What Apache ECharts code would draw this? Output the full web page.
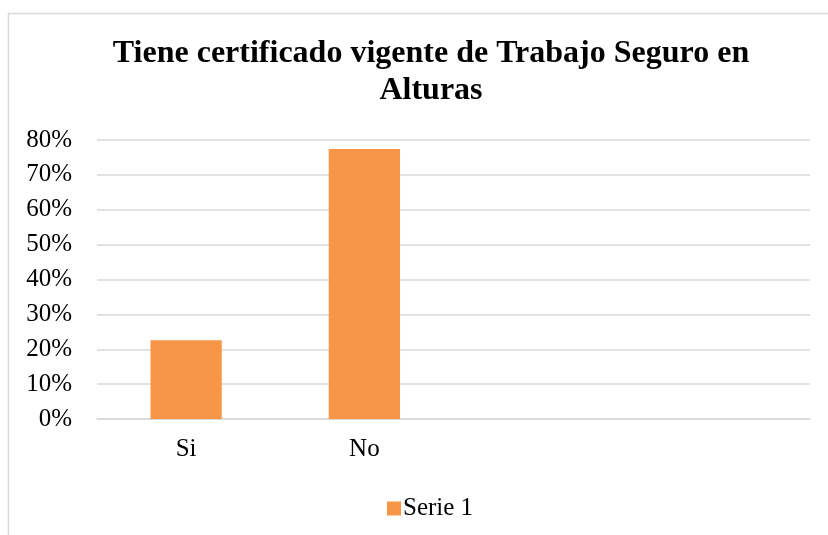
<!DOCTYPE html>
<html>
<head>
<meta charset="utf-8">
<script src="https://cdn.jsdelivr.net/npm/echarts@6/dist/echarts.min.js"></script>
<style>
  html, body { margin: 0; padding: 0; background: #fff; }
  #chart { width: 828px; height: 535px; }
</style>
</head>
<body>
<div id="chart"></div>
<script>
// datos
const categories = ['Si', 'No', '', ''];
const serie1 = [22.6, 77.4, null, null];
const yTicks = { min: 0, max: 80, interval: 10 };

const serif = '"Liberation Serif", "Times New Roman", serif';

const chart = echarts.init(document.getElementById('chart'));
chart.setOption({
  backgroundColor: '#fff',
  animation: false,
  graphic: [
    {
      // marco del área del gráfico
      type: 'rect',
      shape: { x: 8.5, y: 13.5, width: 900, height: 600 },
      style: { fill: 'none', stroke: '#d9d9d9', lineWidth: 1.5 },
      silent: true
    }
  ],
  title: {
    text: 'Tiene certificado vigente de Trabajo Seguro en\nAlturas',
    left: 426,
    top: 30,
    textAlign: 'center',
    textStyle: {
      fontFamily: serif,
      fontWeight: 'bold',
      fontSize: 32,
      lineHeight: 37,
      color: '#000'
    }
  },
  legend: {
    data: ['Serie 1'],
    left: 382,
    top: 491,
    itemWidth: 14,
    itemHeight: 14,
    itemGap: 10,
    icon: 'rect',
    textStyle: { fontFamily: serif, fontSize: 25, color: '#000', padding: [0, 0, 0, -3] }
  },
  grid: { left: 97, right: 18, top: 140, bottom: 116, containLabel: false },
  xAxis: {
    type: 'category',
    data: categories,
    axisLine: { lineStyle: { color: '#d9d9d9', width: 1.5 } },
    axisTick: { show: false },
    axisLabel: { fontFamily: serif, fontSize: 25, color: '#000', margin: 18 }
  },
  yAxis: {
    type: 'value',
    min: yTicks.min,
    max: yTicks.max,
    interval: yTicks.interval,
    axisLine: { show: false },
    axisTick: { show: false },
    axisLabel: { formatter: '{value}%', fontFamily: serif, fontSize: 25, color: '#000', margin: 25 },
    splitLine: { lineStyle: { color: '#d9d9d9', width: 1.5 } }
  },
  series: [
    {
      name: 'Serie 1',
      type: 'bar',
      data: serie1,
      barWidth: '40%',
      itemStyle: { color: '#F79646' }
    }
  ]
});
</script>
</body>
</html>
